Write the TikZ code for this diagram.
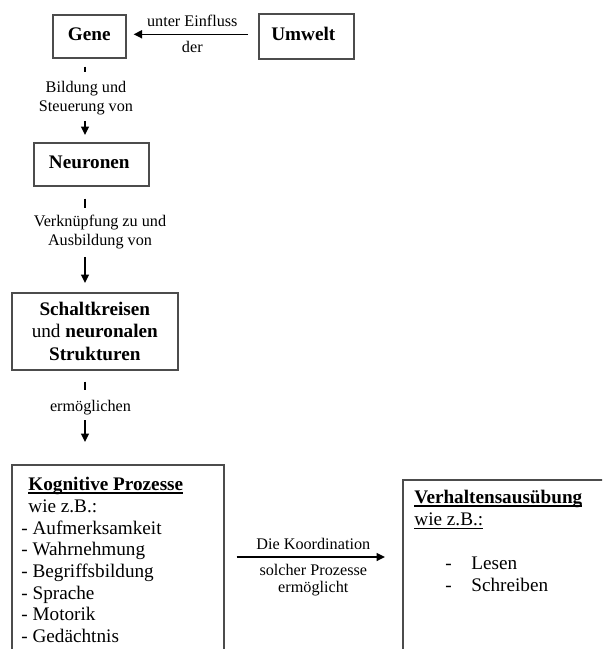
\documentclass[tikz,border=0pt]{standalone}
\usepackage{fontspec}
\setmainfont{Liberation Serif}
\usetikzlibrary{arrows.meta,positioning}
\newcommand{\lbl}{\fontsize{8.1}{9.5}\selectfont}
\newcommand{\txt}{\fontsize{9.6}{11}\selectfont}
\newsavebox{\ulbox}
\newcommand{\ulin}[2][0.5pt]{\sbox{\ulbox}{#2}\rlap{\rule[-1.4pt]{\wd\ulbox}{#1}}\usebox{\ulbox}}
\tikzset{
	>={Triangle[length=4.2pt,width=4pt]},   % small filled heads
	box/.style={draw=black!70, line width=0.8pt, inner sep=0pt, anchor=north west, font=\txt\bfseries},
	kbox/.style={box, text depth=2pt},
	link/.style={line width=0.7pt},
	conlabel/.style={font=\lbl, align=center, inner sep=0pt}
}

\begin{document}
\begin{tikzpicture}[x=0.5pt,y=-0.5pt]
	\useasboundingbox (0,0) rectangle (602,649);
	\clip (0,0) rectangle (602,649);
	
	% upper boxes
	\node[kbox, minimum width=36.5pt, minimum height=21.5pt] (gene) at (52,14) {Gene};
	\node[kbox, minimum width=47.5pt, minimum height=22.5pt] (umwelt) at (258,13) {Umwelt\hspace*{3pt}};
	\node[kbox, minimum width=57.5pt, minimum height=21.5pt] (neuronen) at (33,142) {Neuronen\hspace*{2pt}};
	\node[box, minimum width=83pt, minimum height=38.5pt, align=center,
	font=\fontsize{9.6}{11.25}\selectfont\bfseries] (schalt) at (11,292)
	{Schaltkreisen\\{\mdseries und} neuronalen\\Strukturen};
	
	% lower boxes (cut off by the page)
	\node[box, minimum width=106pt, minimum height=120pt] (kog) at (11,464) {};
	\node[anchor=north west, inner sep=0pt, align=left,
	font=\fontsize{9.6}{10.85}\selectfont] (kogtext) at (21,477)
	{\hspace*{3.5pt}\ulin[0.6pt]{\textbf{Kognitive Prozesse}}\\
		\hspace*{3.5pt}wie z.B.:\\
		- Aufmerksamkeit\\
		- Wahrnehmung\\
		- Begriffsbildung\\
		- Sprache\\
		- Motorik\\
		- Gedächtnis};
	
	\node[box, minimum width=110pt, minimum height=100pt] (verh) at (402,479) {};
	\node[anchor=north west, inner sep=0pt, align=left,
	font=\fontsize{9.6}{11}\selectfont] (verhtext) at (414,490)
	{\ulin[0.8pt]{\textbf{Verhaltensausübung}}\\
		\ulin{wie z.B.:}\\[11pt]
		\hspace*{15.5pt}\makebox[13pt][l]{-}Lesen\\
		\hspace*{15.5pt}\makebox[13pt][l]{-}Schreiben};
	
	% labels between the boxes
	\coordinate (spine) at (85,0);
	\coordinate (flow) at (0,557);
	\node[conlabel] (bildung) at (86,98.5) {Bildung und\\Steuerung von};
	\node[conlabel] (verkn) at (100,232.5) {Verknüpfung zu und\\Ausbildung von};
	\node[conlabel] (ermoegl) at (90.5,407.5) {ermöglichen};
	
	% connectors
	\draw[link, ->, shorten <=5pt, shorten >=3.5pt] ([yshift=1pt]umwelt.west) --
	node[above, font=\lbl] {unter Einfluss}
	node[below, font=\lbl] {der} ([yshift=1pt]gene.east);
	
	\draw[link, shorten <=4pt, shorten >=4.5pt] (gene.south -| spine) -- (bildung.north -| spine);
	\draw[link, ->, shorten <=2.5pt, shorten >=3.5pt] (bildung.south -| spine) -- (neuronen.north -| spine);
	
	\draw[link, shorten <=6pt, shorten >=3.5pt] (neuronen.south -| spine) -- (verkn.north -| spine);
	\draw[link, ->, shorten <=3.5pt, shorten >=4.5pt] (verkn.south -| spine) -- (schalt.north -| spine);
	
	\draw[link, shorten <=5.5pt, shorten >=5pt] (schalt.south -| spine) -- (ermoegl.north -| spine);
	\draw[link, ->, shorten <=2.5pt, shorten >=11pt] (ermoegl.south -| spine) -- (kog.north -| spine);
	
	\draw[link, ->, shorten <=6pt, shorten >=8.5pt] (kog.east |- flow) --
	node[above, font=\lbl] {Die Koordination}
	node[below, font=\fontsize{8.1}{8.6}\selectfont, align=center] {solcher Prozesse\\ermöglicht}
	(verh.west |- flow);
	
\end{tikzpicture}
\end{document}
